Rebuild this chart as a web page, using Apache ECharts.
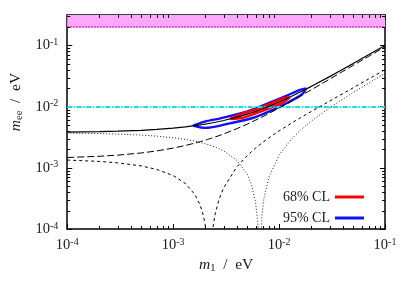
<!DOCTYPE html>
<html>
<head>
<meta charset="utf-8">
<script src="https://cdn.jsdelivr.net/npm/echarts@6/dist/echarts.min.js"></script>
<style>
html,body{margin:0;padding:0;background:#fff;}
#chart{width:409px;height:286px;}
</style>
</head>
<body>
<div id="chart"></div>
<script>
// ---- axis ranges / levels ----
const xMin = 1e-4, xMax = 1e-1;
const yMin = 1e-4, yMax = 0.31623;
const bandLow = 0.2;          // magenta excluded region
const cyanLevel = 0.01;       // cyan dash-dot sensitivity line

// ---- tick values ----
const xMinorTicks = [2e-4,3e-4,4e-4,5e-4,6e-4,7e-4,8e-4,9e-4,
                     2e-3,3e-3,4e-3,5e-3,6e-3,7e-3,8e-3,9e-3,
                     2e-2,3e-2,4e-2,5e-2,6e-2,7e-2,8e-2,9e-2];
const yMinorTicks = [2e-4,3e-4,4e-4,5e-4,6e-4,7e-4,8e-4,9e-4,
                     2e-3,3e-3,4e-3,5e-3,6e-3,7e-3,8e-3,9e-3,
                     2e-2,3e-2,4e-2,5e-2,6e-2,7e-2,8e-2,9e-2,
                     2e-1,3e-1];

// ---- curves: m1 (eV) and m_ee (eV) ----
const m1 = [1e-4, 2e-4, 3e-4, 5e-4, 7e-4, 1e-3, 1.3e-3, 1.6e-3, 1.8e-3, 1.9e-3, 2e-3, 2.1e-3, 2.2e-3, 2.3e-3,
            2.4e-3, 2.5e-3, 2.7e-3, 3e-3, 4e-3, 5e-3, 5.5e-3, 6e-3, 6.3e-3, 6.6e-3, 6.9e-3, 7.2e-3, 8e-3,
            1e-2, 1.3e-2, 1.6e-2, 2e-2, 3e-2, 4e-2, 5e-2, 7e-2, 1e-1];
const meeSolid = [0.003837, 0.003906, 0.003974, 0.004113, 0.004252, 0.004464, 0.004679, 0.004898, 0.005045,
                  0.005119, 0.005193, 0.005268, 0.005343, 0.005418, 0.005494, 0.005570, 0.005723, 0.005955,
                  0.006746, 0.007563, 0.007980, 0.008403, 0.008659, 0.008917, 0.009176, 0.009437, 0.010139,
                  0.011933, 0.014696, 0.017517, 0.021335, 0.031034, 0.040844, 0.050711, 0.070538, 0.100390];
const meeLongDash = [0.001477, 0.001546, 0.001614, 0.001752, 0.001892, 0.002104, 0.002319, 0.002536, 0.002683,
                     0.002757, 0.002832, 0.002906, 0.002981, 0.003056, 0.003132, 0.003207, 0.003360, 0.003591,
                     0.004378, 0.005191, 0.005606, 0.006026, 0.006280, 0.006536, 0.006794, 0.007052, 0.007749,
                     0.009526, 0.012257, 0.015039, 0.018794, 0.028282, 0.037822, 0.047374, 0.066478, 0.095113];
const meeShortDash = [0.001342, 0.001275, 0.001208, 0.001075, 0.0009436, 0.000749, 0.0005574, 0.0003688, 0.0002446,
                      0.0001831, 0.0001219, 0.0000609, 0.000001, 0.00006, 0.0001201, 0.0001798, 0.0002984, 0.0004739,
                      0.0010411, 0.0015829, 0.0018454, 0.0021026, 0.0022549, 0.0024052, 0.0025544, 0.0027022, 0.003089,
                      0.0040219, 0.005355, 0.0066377, 0.0083025, 0.0123618, 0.0163699, 0.0203663, 0.0283584, 0.0403668];
const meeDotted = [0.003702, 0.003635, 0.003568, 0.003435, 0.003304, 0.003109, 0.002918, 0.00273, 0.002606,
                   0.002545, 0.002484, 0.002423, 0.002363, 0.002302, 0.002243, 0.002183, 0.002065, 0.00189,
                   0.001327, 0.000789, 0.000529, 0.000274, 0.000124, 0.0000248, 0.000172, 0.000318, 0.000699,
                   0.001615, 0.002917, 0.00416, 0.005761, 0.00961, 0.013348, 0.017029, 0.024298, 0.03509];

// ---- confidence contours ----
const cl68X = [3.45e-3, 4.5e-3, 6e-3, 8.5e-3, 1.1e-2, 1.26e-2, 1.1e-2, 8.5e-3, 6e-3, 4.5e-3, 3.45e-3];
const cl68Y = [6.3e-3, 7.7e-3, 9.0e-3, 1.14e-2, 1.37e-2, 1.43e-2, 1.19e-2, 9.8e-3, 7.8e-3, 6.6e-3, 6.3e-3];
const cl95X = [1.54e-3, 1.99e-3, 2.85e-3, 4.94e-3, 8.75e-3, 1.2e-2, 1.55e-2, 1.8e-2, 1.65e-2, 1.2e-2, 8.75e-3, 5.73e-3, 3.52e-3, 1.99e-3, 1.54e-3];
const cl95Y = [4.9e-3, 5.7e-3, 6.5e-3, 8.3e-3, 1.22e-2, 1.53e-2, 1.87e-2, 1.99e-2, 1.6e-2, 1.16e-2, 8.9e-3, 6.6e-3, 5.4e-3, 4.5e-3, 4.9e-3];

const legendNames = ['68% CL', '95% CL'];

const SERIF = '"Liberation Serif","DejaVu Serif",serif';
const TXT = '#1a1a1a';

const pair = (xs, ys) => xs.map((x, i) => [x, ys[i]]);

function powLabel(v) {
  const e = Math.log10(v);
  const r = Math.round(e);
  if (Math.abs(e - r) > 1e-6) return '';
  return '{b|10}{s|' + r + '}';
}
const labelRich = {
  b: { fontFamily: SERIF, fontSize: 14.5, color: TXT, lineHeight: 16 },
  s: { fontFamily: SERIF, fontSize: 10, color: TXT, verticalAlign: 'top', lineHeight: 10 }
};
const nameRich = {
  i: { fontFamily: SERIF, fontSize: 15.5, fontStyle: 'italic', color: TXT },
  sub: { fontFamily: SERIF, fontSize: 10.5, color: TXT, verticalAlign: 'bottom', padding: [6, 0, 0, 0] },
  n: { fontFamily: SERIF, fontSize: 15.5, color: TXT }
};

const axisLineStyle = { show: true, lineStyle: { color: '#000', width: 1.5 } };
const majorTick = { show: true, inside: true, length: 5, lineStyle: { color: '#000', width: 1 } };

function minorTickSeries(vals, isX) {
  return {
    type: 'custom',
    silent: true,
    z: 20,
    xAxisIndex: 0, yAxisIndex: 0,
    data: vals.map(v => isX ? [v, yMin] : [xMin, v]),
    renderItem: function (params, api) {
      const cs = params.coordSys;
      const style = { stroke: '#000', lineWidth: 1 };
      if (isX) {
        const p = api.coord([api.value(0), yMin]);
        const x = Math.round(p[0]) + 0.5;
        return { type: 'group', children: [
          { type: 'line', shape: { x1: x, y1: cs.y + cs.height, x2: x, y2: cs.y + cs.height - 3 }, style: style },
          { type: 'line', shape: { x1: x, y1: cs.y, x2: x, y2: cs.y + 3 }, style: style }
        ]};
      } else {
        const p = api.coord([xMin, api.value(1)]);
        const y = Math.round(p[1]) + 0.5;
        return { type: 'group', children: [
          { type: 'line', shape: { x1: cs.x, y1: y, x2: cs.x + 3, y2: y }, style: style },
          { type: 'line', shape: { x1: cs.x + cs.width, y1: y, x2: cs.x + cs.width - 3, y2: y }, style: style }
        ]};
      }
    }
  };
}

const chart = echarts.init(document.getElementById('chart'), null, { renderer: 'canvas' });
chart.setOption({
  animation: false,
  backgroundColor: '#fff',
  grid: { left: 59, right: 24, top: 15, bottom: 57, containLabel: false },
  legend: {
    data: legendNames,
    orient: 'vertical',
    right: 40,
    top: 185,
    align: 'right',
    icon: 'rect',
    itemWidth: 29,
    itemHeight: 3,
    itemGap: 7,
    textStyle: { fontFamily: SERIF, fontSize: 14, color: TXT }
  },
  xAxis: [
    {
      type: 'log', logBase: 10, min: xMin, max: xMax, position: 'bottom',
      axisLine: axisLineStyle, axisTick: majorTick, splitLine: { show: false },
      axisLabel: { formatter: powLabel, rich: labelRich, margin: 8 },
      name: '{i|m}{sub|1}{n|  /  eV}', nameLocation: 'middle', nameGap: 26,
      nameTextStyle: { rich: nameRich }
    },
    {
      type: 'log', logBase: 10, min: xMin, max: xMax, position: 'top',
      axisLine: axisLineStyle, axisTick: majorTick, splitLine: { show: false },
      axisLabel: { show: false }
    }
  ],
  yAxis: [
    {
      type: 'log', logBase: 10, min: yMin, max: yMax, position: 'left',
      axisLine: axisLineStyle, axisTick: majorTick, splitLine: { show: false },
      axisLabel: { formatter: powLabel, rich: labelRich, margin: 9 },
      name: '{i|m}{sub|ee}{n|  /  eV}', nameLocation: 'middle', nameGap: 42, nameRotate: 90,
      nameTextStyle: { rich: nameRich, padding: [0, 0, 0, 40] }
    },
    {
      type: 'log', logBase: 10, min: yMin, max: yMax, position: 'right',
      axisLine: axisLineStyle, axisTick: majorTick, splitLine: { show: false },
      axisLabel: { show: false }
    }
  ],
  series: [
    {
      name: 'band', type: 'line', data: [], silent: true, z: 1,
      markArea: {
        silent: true,
        itemStyle: { color: '#ffa6ff', opacity: 1 },
        data: [[{ yAxis: bandLow }, { yAxis: yMax }]]
      },
      markLine: {
        silent: true, symbol: ['none', 'none'], label: { show: false },
        lineStyle: { color: '#e000e0', type: [1.5, 1.5], width: 1.5 },
        data: [{ yAxis: bandLow }]
      }
    },
    {
      name: legendNames[1], type: 'line', data: pair(cl95X, cl95Y), smooth: 0.3,
      showSymbol: false, z: 3, lineStyle: { color: '#1010ff', width: 2.4 }, itemStyle: { color: '#1010ff' }
    },
    {
      name: legendNames[0], type: 'line', data: pair(cl68X, cl68Y), smooth: 0.3,
      showSymbol: false, z: 4, lineStyle: { color: '#ff0000', width: 2.6 }, itemStyle: { color: '#ff0000' }
    },
    {
      name: 'solid', type: 'line', data: pair(m1, meeSolid), showSymbol: false, z: 5,
      lineStyle: { color: '#000', width: 1.2 }
    },
    {
      name: 'longdash', type: 'line', data: pair(m1, meeLongDash), showSymbol: false, z: 5,
      lineStyle: { color: '#000', width: 1, type: [7, 3] }
    },
    {
      name: 'shortdash', type: 'line', data: pair(m1, meeShortDash), showSymbol: false, z: 5,
      lineStyle: { color: '#000', width: 1, type: [3, 3] }
    },
    {
      name: 'dotted', type: 'line', data: pair(m1, meeDotted), showSymbol: false, z: 5,
      lineStyle: { color: '#222', width: 1, type: [1, 2] }
    },
    {
      name: 'cyan', type: 'line', data: [], silent: true, z: 6,
      markLine: {
        silent: true, symbol: ['none', 'none'], label: { show: false },
        lineStyle: { color: '#10e0e8', type: [5, 1.5, 1.5, 1.5], width: 2 },
        data: [{ yAxis: cyanLevel }]
      }
    },
    minorTickSeries(xMinorTicks, true),
    minorTickSeries(yMinorTicks, false)
  ]
});
</script>
</body>
</html>
